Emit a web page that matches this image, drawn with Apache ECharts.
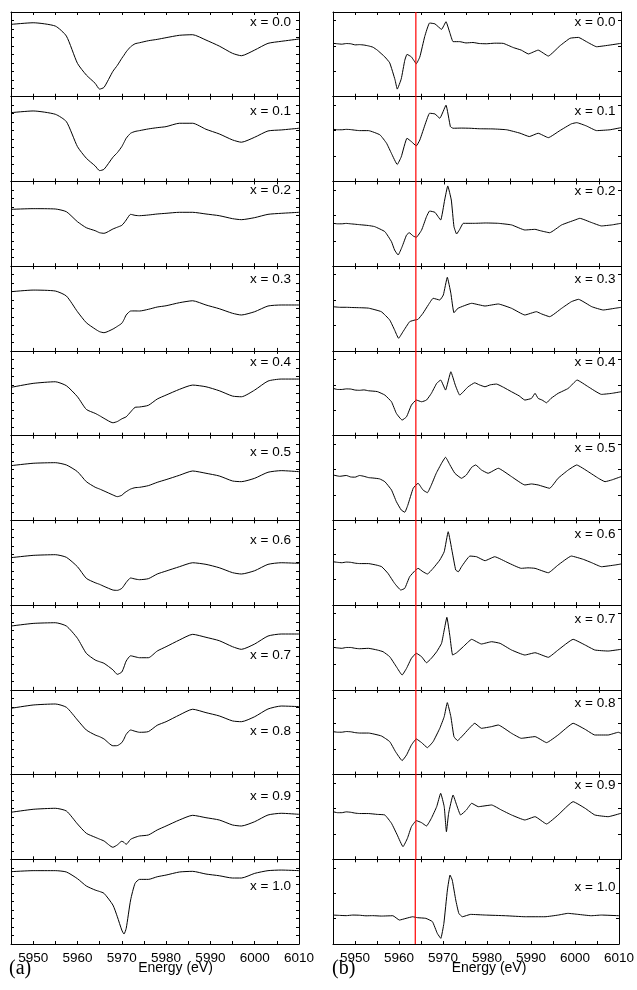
<!DOCTYPE html>
<html>
<head>
<meta charset="utf-8">
<script src="https://cdn.jsdelivr.net/npm/echarts@6/dist/echarts.min.js"></script>
<style>
  html, body { margin: 0; padding: 0; background: #fff; }
  #chart { width: 637px; height: 990px; }
</style>
</head>
<body>
<div id="chart"></div>
<script>
// Compositions, one panel per row in each column
const compositions = ['0.0', '0.1', '0.2', '0.3', '0.4', '0.5', '0.6', '0.7', '0.8', '0.9', '1.0'];

// Energy axis (eV)
const energyMin = 5945;
const energyMax = 6010;
const energyTicks = [5950, 5960, 5970, 5980, 5990, 6000, 6010];
const edgePosition = 5963.7; // reference energy marked in column (b)

// Column (a): shared energy grid and normalised spectra (0 = panel bottom, 1 = panel top)
const edgeEnergy = [5945, 5950, 5955, 5957.5, 5960, 5962, 5964, 5965, 5966, 5968, 5969, 5970, 5970.5, 5971, 5972,
                    5973, 5974, 5976, 5978, 5980, 5983, 5986, 5989, 5992, 5995, 5997, 6000, 6003, 6006, 6010];

const specA0  = [.854,.873,.834,.716,.394,.256,.158,.09,.111,.30,.37,.453,.49,.53,.59,.625,.637,.661,.677,.697,.725,.732,.669,.598,.512,.484,.551,.630,.654,.681];
const specA1  = [.812,.832,.793,.706,.411,.274,.183,.128,.144,.286,.34,.411,.46,.51,.569,.59,.600,.620,.635,.647,.687,.687,.616,.561,.490,.463,.522,.596,.608,.628];
const specA2  = [.671,.679,.675,.643,.525,.454,.419,.395,.388,.439,.46,.482,.51,.545,.612,.60,.596,.604,.616,.624,.636,.636,.616,.596,.561,.549,.573,.612,.624,.636];
const specA3  = [.699,.718,.707,.648,.463,.333,.258,.227,.215,.258,.29,.326,.37,.424,.471,.472,.471,.491,.518,.533,.569,.592,.542,.498,.444,.424,.463,.530,.542,.542];
const specA4  = [.570,.617,.636,.589,.459,.310,.263,.235,.204,.152,.167,.198,.21,.222,.28,.334,.338,.358,.432,.479,.546,.597,.577,.530,.467,.459,.538,.644,.668,.668];
const specA5  = [.646,.674,.681,.654,.575,.457,.391,.37,.347,.300,.280,.296,.32,.339,.370,.386,.390,.410,.449,.481,.532,.583,.556,.524,.465,.457,.497,.568,.587,.575];
const specA6  = [.560,.587,.595,.564,.453,.316,.264,.245,.221,.178,.174,.197,.23,.268,.320,.308,.300,.312,.367,.402,.453,.500,.481,.441,.383,.367,.406,.481,.500,.493];
const specA7  = [.753,.784,.792,.753,.608,.431,.352,.332,.313,.236,.183,.21,.27,.34,.402,.39,.379,.379,.458,.509,.588,.655,.620,.580,.509,.478,.541,.635,.659,.659];
const specA8  = [.782,.821,.833,.794,.644,.526,.467,.447,.42,.34,.342,.377,.42,.475,.526,.511,.499,.507,.582,.624,.703,.771,.731,.692,.633,.624,.683,.774,.809,.802];
const specA9  = [.555,.590,.602,.570,.417,.307,.260,.238,.216,.142,.170,.213,.20,.177,.236,.259,.275,.287,.346,.393,.464,.519,.491,.464,.405,.393,.444,.523,.543,.531];
const specA10 = [.854,.866,.866,.850,.771,.685,.637,.62,.598,.460,.322,.165,.118,.185,.52,.716,.763,.763,.794,.814,.850,.858,.826,.806,.779,.779,.834,.866,.873,.866];

// Column (b): [energy, normalised value] pairs for each composition
const derivB0 = [[5945,.63],[5946,.625],[5947,.62],[5948,.628],[5949,.625],[5950,.612],[5951,.615],[5952,.61],[5953,.60],[5954,.585],[5955,.55],[5956.7,.47],[5957.8,.40],[5959,.20],[5959.5,.09],[5960.4,.21],[5961.2,.43],[5961.7,.50],[5962.7,.47],[5963.8,.39],[5964.6,.47],[5965.7,.71],[5966.8,.87],[5968,.86],[5969.5,.795],[5970.5,.885],[5971.4,.75],[5972.1,.65],[5973.6,.65],[5975,.635],[5976.6,.64],[5978,.628],[5979.6,.625],[5981.5,.632],[5983.4,.63],[5985.7,.58],[5987.5,.55],[5989.1,.505],[5991.3,.55],[5993.6,.48],[5996.2,.60],[5998.5,.69],[6000.4,.70],[6002.2,.65],[6004.5,.59],[6007.5,.61],[6010,.63]];
const derivB1 = [[5945,.616],[5946,.61],[5947,.61],[5948,.615],[5949,.612],[5950,.605],[5951,.60],[5953,.60],[5955.6,.55],[5957.1,.45],[5958.2,.33],[5959.5,.20],[5960.4,.29],[5961.7,.51],[5962.7,.47],[5963.8,.42],[5964.6,.49],[5965.9,.69],[5966.8,.805],[5968,.797],[5969.1,.746],[5970.5,.90],[5971.5,.647],[5972.1,.628],[5974,.63],[5975.9,.628],[5978,.622],[5981.1,.62],[5984.2,.61],[5987.2,.57],[5989.3,.53],[5991.3,.569],[5993.6,.517],[5996.2,.60],[5998.8,.68],[6000,.694],[6002.2,.655],[6004.5,.60],[6007.5,.61],[6010,.635]];
const derivB2 = [[5945,.506],[5946,.50],[5947,.50],[5948,.505],[5949,.50],[5950,.495],[5951,.49],[5953,.48],[5954.4,.467],[5956.7,.408],[5958.2,.289],[5958.9,.191],[5959.7,.132],[5960.6,.23],[5961.6,.368],[5962.2,.395],[5963.1,.356],[5963.8,.341],[5965,.427],[5966.1,.584],[5966.8,.651],[5968,.636],[5969.3,.545],[5970.2,.781],[5970.9,.947],[5971.7,.781],[5972.3,.467],[5972.9,.38],[5973.6,.435],[5974.4,.506],[5977,.506],[5979.5,.51],[5982.3,.506],[5985.3,.487],[5988.3,.427],[5990.6,.435],[5991.7,.42],[5993.9,.395],[5996.6,.487],[5999.6,.545],[6000.7,.565],[6003.4,.514],[6005.6,.475],[6007.9,.487],[6010,.506]];
const derivB3 = [[5945,.522],[5946.5,.515],[5948,.515],[5949.5,.512],[5951,.51],[5953,.505],[5955.9,.463],[5957.8,.365],[5958.9,.247],[5959.8,.149],[5960.8,.227],[5962.3,.345],[5963.5,.365],[5964.2,.373],[5965.3,.444],[5966.5,.542],[5967.6,.621],[5969.1,.601],[5969.9,.66],[5970.8,.869],[5971.6,.68],[5972.3,.451],[5973.2,.503],[5976.3,.562],[5979.3,.530],[5982.3,.554],[5985.3,.503],[5988.3,.424],[5990.9,.463],[5992.1,.436],[5993.9,.404],[5996.6,.503],[5998.8,.581],[6000.4,.609],[6003.4,.522],[6006,.483],[6008.6,.503],[6010,.514]];
const derivB4 = [[5945,.558],[5946,.545],[5947,.545],[5948,.552],[5949,.55],[5950,.538],[5951,.535],[5952,.54],[5953,.53],[5955,.52],[5956.7,.479],[5958.2,.40],[5959.3,.263],[5960.6,.184],[5961.6,.223],[5962.7,.361],[5963.8,.42],[5965,.40],[5966.1,.42],[5967.2,.499],[5968.4,.617],[5969.3,.656],[5970.4,.538],[5971.6,.754],[5972.6,.597],[5973.6,.479],[5975.5,.577],[5977,.624],[5978,.60],[5979.3,.577],[5980.5,.60],[5981.9,.609],[5983.5,.57],[5985.3,.518],[5987,.47],[5988.3,.42],[5989.8,.44],[5990.6,.499],[5991.3,.44],[5992.2,.42],[5993.2,.388],[5994.2,.44],[5995.8,.499],[5998.1,.558],[6000.1,.656],[6002.6,.577],[6005.6,.487],[6007.9,.499],[6010,.518]];
const derivB5 = [[5945,.536],[5946.5,.52],[5948,.53],[5949,.512],[5950,.51],[5951,.53],[5952,.52],[5953,.505],[5954,.50],[5955.5,.49],[5956.7,.457],[5958.2,.359],[5959.3,.221],[5960.4,.123],[5961.2,.096],[5961.9,.182],[5963.1,.379],[5964.2,.438],[5965.3,.359],[5966.3,.327],[5967.2,.418],[5968.3,.556],[5969.5,.674],[5970.4,.745],[5971.4,.654],[5972.5,.556],[5974,.497],[5975.1,.536],[5976.3,.627],[5977.2,.654],[5978.5,.595],[5980,.556],[5982.3,.615],[5985.3,.516],[5988.3,.418],[5989.8,.43],[5991.3,.418],[5993.9,.379],[5995.8,.497],[5998.1,.595],[6000,.654],[6002.6,.575],[6004.9,.497],[6006.4,.457],[6007.9,.477],[6010,.516]];
const derivB6 = [[5945,.512],[5946,.505],[5947,.50],[5948,.508],[5949,.505],[5950,.495],[5951,.49],[5953,.49],[5955,.47],[5956,.453],[5957.4,.375],[5958.9,.257],[5960.3,.178],[5961.2,.198],[5962.3,.335],[5963.5,.406],[5964.2,.434],[5965.3,.394],[5966.3,.367],[5967.6,.434],[5969.1,.532],[5970.1,.63],[5971,.866],[5971.9,.63],[5972.7,.414],[5973.3,.394],[5974,.453],[5975.9,.579],[5977.4,.571],[5979.3,.524],[5981.5,.571],[5984.5,.50],[5987.5,.434],[5989,.44],[5990.6,.434],[5993.6,.382],[5995.8,.473],[5998.8,.579],[6001.5,.54],[6003.4,.50],[6005.6,.453],[6008.6,.473],[6010,.485]];
const derivB7 = [[5945,.502],[5946,.495],[5947,.49],[5948,.50],[5949,.50],[5950,.49],[5951,.485],[5953,.49],[5955,.47],[5956.3,.45],[5957.8,.391],[5959.3,.273],[5960.6,.175],[5961.6,.254],[5962.7,.372],[5963.8,.431],[5965,.391],[5966.1,.32],[5967.2,.372],[5968.4,.45],[5969.5,.549],[5970.1,.706],[5970.7,.856],[5971.4,.627],[5972,.411],[5972.9,.438],[5974.4,.509],[5976.3,.596],[5978.5,.541],[5980.8,.568],[5982.7,.549],[5985.3,.47],[5988.3,.411],[5990.6,.438],[5993.6,.384],[5995.8,.47],[5999.2,.596],[6001.9,.529],[6004.1,.47],[6007.1,.458],[6010,.478]];
const derivB8 = [[5945,.507],[5946,.50],[5947,.50],[5948,.508],[5949,.505],[5950,.495],[5951,.49],[5953,.49],[5955.9,.456],[5957.8,.389],[5959.1,.271],[5960.6,.165],[5961.6,.231],[5962.7,.349],[5963.8,.42],[5965,.377],[5966.3,.318],[5967.6,.389],[5969.1,.546],[5970.1,.684],[5970.8,.849],[5971.6,.684],[5972.3,.448],[5973.1,.401],[5974.4,.467],[5977,.605],[5978.5,.546],[5980.8,.566],[5982.3,.585],[5985.3,.487],[5987.5,.428],[5990.6,.448],[5993.2,.377],[5995.8,.467],[5999.2,.605],[6001.9,.534],[6004.1,.467],[6007.1,.467],[6009.4,.499],[6010,.487]];
const derivB9 = [[5945,.562],[5946,.55],[5947,.55],[5948,.56],[5949,.555],[5950,.545],[5951,.54],[5953,.54],[5955,.53],[5956.7,.523],[5958.2,.425],[5959.5,.287],[5960.8,.149],[5961.8,.248],[5962.7,.385],[5963.8,.456],[5965,.432],[5966.1,.393],[5967.2,.484],[5968.4,.621],[5969.3,.779],[5970.1,.621],[5970.6,.326],[5971.1,.543],[5972.1,.759],[5972.9,.641],[5973.8,.523],[5975.1,.582],[5976.3,.661],[5977.8,.621],[5980.8,.641],[5983,.582],[5985.3,.523],[5988.3,.464],[5990.6,.503],[5993.2,.417],[5995.8,.523],[5999.2,.68],[6001.9,.602],[6004.1,.523],[6007.1,.503],[6010,.543]];
const derivB10 = [[5945,.342],[5946.5,.338],[5948,.335],[5949.5,.342],[5951,.34],[5952.5,.333],[5954,.335],[5956,.33],[5958.6,.334],[5960.1,.283],[5961.6,.303],[5963.1,.322],[5964.2,.311],[5966.1,.303],[5967.6,.264],[5968.7,.126],[5969.5,.067],[5970.2,.244],[5971,.637],[5971.6,.814],[5972.1,.755],[5972.9,.519],[5973.6,.362],[5974.4,.322],[5976.3,.35],[5979.6,.342],[5984.2,.334],[5988.7,.322],[5993.2,.322],[5996.2,.342],[5998.4,.362],[6000.7,.35],[6003.7,.334],[6006,.342],[6010,.334]];

const spectraA = [specA0, specA1, specA2, specA3, specA4, specA5, specA6, specA7, specA8, specA9, specA10];
const derivsB = [derivB0, derivB1, derivB2, derivB3, derivB4, derivB5, derivB6, derivB7, derivB8, derivB9, derivB10];

// ---- layout ----
const PLOT_TOP = 12;
const PANEL_H = 84.73;
const PLOT_W = 288;
const COL_LEFT = [11, 333];
const LABEL_RIGHT = [291, 615.5];          // right edge of the "x = ..." labels
const LABEL_DY = [                          // label centre below each panel top
  [10.7, 14.3, 9.2, 12.8, 11.8, 17, 19.6, 50, 41, 21.4, 27.4],
  [10.7, 14.3, 9.5, 12.8, 11.8, 12.7, 13.6, 13.9, 13.5, 11.1, 28.4]
];
const SANS = '"Liberation Sans", Arial, sans-serif';
const SERIF = '"Liberation Serif", "Times New Roman", serif';

const grids = [], xAxes = [], yAxes = [], series = [], graphics = [];
const lineCol = '#000';

function xAxisDef(g, pos, showLabels) {
  return {
    type: 'value', gridIndex: g, position: pos,
    min: energyMin, max: energyMax, interval: 5,
    axisLine: { show: true, onZero: false, lineStyle: { color: lineCol, width: 1 } },
    axisTick: { show: true, inside: true, length: 3, lineStyle: { color: lineCol, width: 1 } },
    axisLabel: {
      show: showLabels, margin: 7, color: '#000', fontSize: 13.5, fontFamily: SANS,
      formatter: v => (energyTicks.indexOf(v) >= 0 ? String(v) : '')
    },
    splitLine: { show: false }
  };
}
function yAxisDef(g, pos, step) {
  return {
    type: 'value', gridIndex: g, position: pos, min: 0, max: 1, interval: step,
    axisLine: { show: true, onZero: false, lineStyle: { color: lineCol, width: 1 } },
    axisTick: { show: true, inside: true, length: 3, lineStyle: { color: lineCol, width: 1 } },
    axisLabel: { show: false },
    splitLine: { show: false }
  };
}

function addPanel(col, i, data) {
  const top = PLOT_TOP + i * PANEL_H;
  const g = grids.length;
  grids.push({ left: COL_LEFT[col], top: top, width: PLOT_W, height: PANEL_H, containLabel: false });
  const last = i === compositions.length - 1;
  const xb = xAxes.length;
  xAxes.push(xAxisDef(g, 'bottom', last));
  xAxes.push(xAxisDef(g, 'top', false));
  const yl = yAxes.length;
  const step = col === 0 ? 0.1 : 0.3;
  yAxes.push(yAxisDef(g, 'left', step));
  yAxes.push(yAxisDef(g, 'right', step));

  series.push({
    type: 'line', name: 'x = ' + compositions[i], xAxisIndex: xb, yAxisIndex: yl,
    data: data, showSymbol: false, symbol: 'none', silent: true,
    smooth: col === 0 ? 0.2 : 0.12,
    lineStyle: { color: '#000', width: 1 },
    emphasis: { disabled: true },
    animation: false, z: 3
  });
  if (col === 1) {
    // vertical reference line at the edge energy, spanning the panel
    series.push({
      type: 'line', xAxisIndex: xb, yAxisIndex: yl,
      data: [[edgePosition, 0], [edgePosition, 1]],
      showSymbol: false, symbol: 'none', silent: true,
      lineStyle: { color: '#ff0000', width: 1.2 },
      emphasis: { disabled: true },
      animation: false, z: 4
    });
  }

  graphics.push({
    type: 'text', x: LABEL_RIGHT[col], y: top + LABEL_DY[col][i], z: 10,
    style: { text: 'x = ' + compositions[i], fill: '#000', fontSize: 13.5, fontFamily: SANS,
             align: 'right', verticalAlign: 'middle' }
  });
}

compositions.forEach((c, i) => {
  addPanel(0, i, edgeEnergy.map((e, k) => [e, spectraA[i][k]]));
});
compositions.forEach((c, i) => {
  addPanel(1, i, derivsB[i]);
});

// Axis titles and panel letters
graphics.push(
  { type: 'text', x: 175.5, y: 968, style: { text: 'Energy (eV)', fill: '#000', fontSize: 14, fontFamily: SANS, align: 'center', verticalAlign: 'middle' } },
  { type: 'text', x: 489, y: 968, style: { text: 'Energy (eV)', fill: '#000', fontSize: 14, fontFamily: SANS, align: 'center', verticalAlign: 'middle' } },
  { type: 'text', x: 9, y: 969, style: { text: '(a)', fill: '#000', fontSize: 20, fontFamily: SERIF, align: 'left', verticalAlign: 'middle' } },
  { type: 'text', x: 332, y: 969, style: { text: '(b)', fill: '#000', fontSize: 20, fontFamily: SERIF, align: 'left', verticalAlign: 'middle' } }
);

const chart = echarts.init(document.getElementById('chart'), null, { renderer: 'canvas' });
chart.setOption({
  animation: false,
  backgroundColor: '#fff',
  grid: grids,
  xAxis: xAxes,
  yAxis: yAxes,
  series: series,
  graphic: graphics
});
</script>
</body>
</html>
